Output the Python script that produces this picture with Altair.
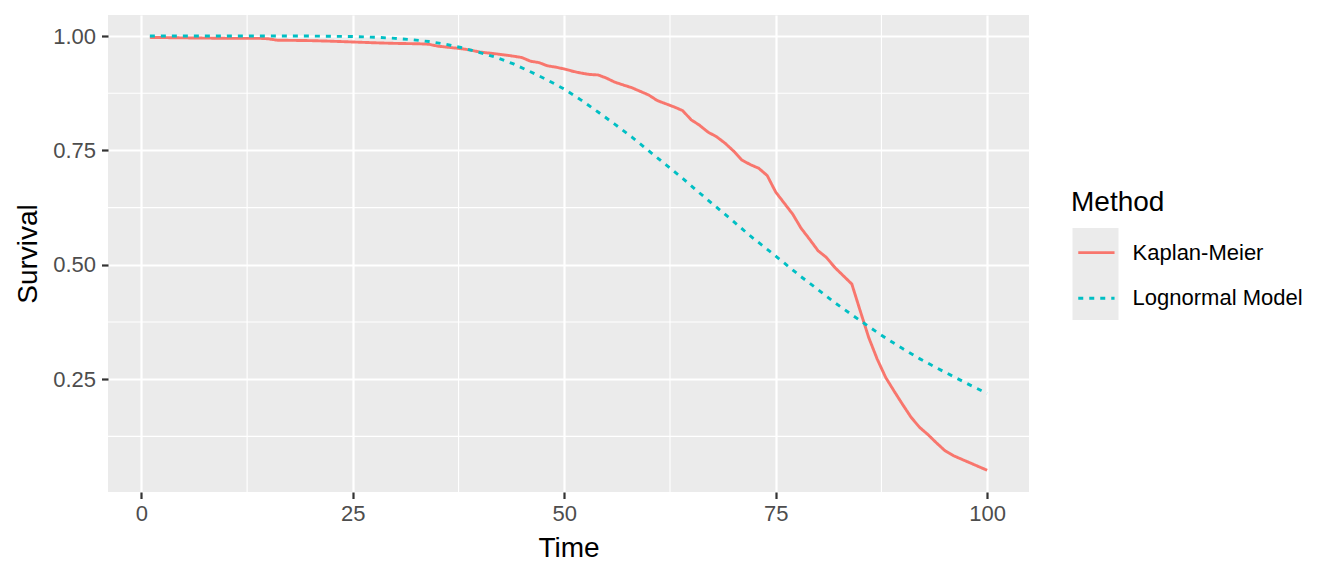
import altair as alt
import pandas as pd

# ---- data ----
methods = ["Kaplan-Meier", "Lognormal Model"]
colors = ["#F8766D", "#00BFC4"]

km_time = [1, 5, 10, 14, 15, 16, 20, 22, 25, 28, 30, 33, 34, 35, 36, 38, 39, 40, 42, 44,
           45, 46, 47, 48, 49, 50, 51, 52, 53, 54, 55, 56, 57, 58, 59, 60, 61, 62, 63, 64,
           65, 66, 67, 68, 69, 70, 71, 72, 73, 74, 75, 76, 77, 78, 79, 80, 81, 82, 83, 84,
           85, 86, 87, 88, 89, 90, 91, 92, 93, 94, 95, 96, 97, 98, 99, 100]
km_surv = [0.997, 0.996, 0.995, 0.995, 0.994, 0.991, 0.990, 0.989, 0.987, 0.985, 0.984, 0.983, 0.982, 0.978, 0.976, 0.972, 0.969, 0.965, 0.961, 0.956,
           0.953, 0.945, 0.942, 0.935, 0.932, 0.928, 0.923, 0.919, 0.916, 0.915, 0.908, 0.899, 0.893, 0.887, 0.879, 0.871, 0.859, 0.852, 0.845, 0.837,
           0.817, 0.805, 0.790, 0.780, 0.766, 0.749, 0.729, 0.719, 0.711, 0.695, 0.659, 0.635, 0.611, 0.580, 0.556, 0.531, 0.516, 0.494, 0.476, 0.458,
           0.399, 0.341, 0.294, 0.254, 0.224, 0.195, 0.167, 0.145, 0.129, 0.111, 0.094, 0.083, 0.075, 0.067, 0.059, 0.051]

ln_time = [1, 5, 10, 15, 20, 25, 28, 30, 32, 34, 36, 38, 40, 42, 44, 46, 48, 50, 52, 54,
           56, 58, 60, 62, 64, 66, 68, 70, 72, 74, 76, 78, 80, 82, 84, 86, 88, 90, 92, 94,
           96, 98, 100]
ln_surv = [1.000, 1.000, 1.000, 1.000, 1.000, 0.999, 0.997, 0.995, 0.992, 0.988, 0.982, 0.974, 0.964, 0.953, 0.939, 0.922, 0.904, 0.884, 0.860, 0.834,
           0.807, 0.779, 0.749, 0.719, 0.689, 0.657, 0.626, 0.595, 0.563, 0.534, 0.504, 0.474, 0.446, 0.417, 0.391, 0.365, 0.340, 0.317, 0.295, 0.275,
           0.256, 0.237, 0.219]

x_ticks = [0, 25, 50, 75, 100]
y_ticks = [0.25, 0.50, 0.75, 1.00]
x_minor = [12.5, 37.5, 62.5, 87.5]
y_minor = [0.125, 0.375, 0.625, 0.875]

assert len(km_time) == len(km_surv) and len(ln_time) == len(ln_surv)

df = pd.concat([
    pd.DataFrame({"Time": km_time, "Survival": km_surv, "Method": methods[0]}),
    pd.DataFrame({"Time": ln_time, "Survival": ln_surv, "Method": methods[1]}),
], ignore_index=True)
df["Key"] = df["Method"]

FONT = "Liberation Sans"
BG = "#EBEBEB"
LW = 2.9

xscale = alt.Scale(domain=[-3.95, 104.95], nice=False, zero=False)
yscale = alt.Scale(domain=[0.0035, 1.046], nice=False, zero=False)

xaxis = alt.Axis(values=x_ticks, title="Time", grid=True, gridColor="white", gridWidth=2.2,
                 domain=False, tickColor="#333333", tickWidth=2.2, tickSize=6.5,
                 labelFont=FONT, labelFontSize=22, labelColor="#4D4D4D", labelPadding=5,
                 titleFont=FONT, titleFontSize=28, titleColor="black", titleFontWeight="normal",
                 titleBaseline="alphabetic", titleX=460.5, titleY=64)
yaxis = alt.Axis(values=y_ticks, format=".2f", title="Survival", grid=True, gridColor="white",
                 gridWidth=2.2, domain=False, tickColor="#333333", tickWidth=2.2, tickSize=6.5,
                 labelFont=FONT, labelFontSize=22, labelColor="#4D4D4D", labelPadding=6,
                 titleFont=FONT, titleFontSize=28, titleColor="black", titleFontWeight="normal",
                 titleAngle=270, titleAlign="center", titleBaseline="alphabetic",
                 titleX=-71.3, titleY=238.5)

# horizontal stroke symbol drawn as a custom path
line_legend = alt.Legend(
    orient="none", legendX=963, legendY=174, padding=0, zindex=1,
    title="Method", titleFont=FONT, titleFontSize=28, titleColor="black",
    titleFontWeight="normal", titlePadding=12.1,
    labelFont=FONT, labelFontSize=22, labelColor="black", labelOffset=12.7, labelLimit=400,
    symbolType="M-0.836,0H0.836", symbolSize=1884, symbolStrokeWidth=LW, symbolOffset=1.9,
    rowPadding=10.6,
)
# legend of invisible marks: only draws the grey key background behind the line legend
key_legend = alt.Legend(
    orient="none", legendX=963, legendY=174, padding=0, zindex=0,
    title=" ", titleFont=FONT, titleFontSize=28, titleOpacity=0,
    titleFontWeight="normal", titlePadding=11.1,
    labelFont=FONT, labelFontSize=22, labelOpacity=0, labelExpr="''",
    symbolSize=2116, symbolStrokeWidth=0, symbolOpacity=1, symbolFillColor=BG,
    symbolOffset=1.5, rowPadding=0,
)

x_minor_layer = alt.Chart(pd.DataFrame({"Time": x_minor})).mark_rule(
    color="white", strokeWidth=1.1).encode(x=alt.X("Time:Q", scale=xscale, axis=xaxis))
y_minor_layer = alt.Chart(pd.DataFrame({"Survival": y_minor})).mark_rule(
    color="white", strokeWidth=1.1).encode(y=alt.Y("Survival:Q", scale=yscale, axis=yaxis))

lines = alt.Chart(df).mark_line(strokeWidth=LW).encode(
    x=alt.X("Time:Q", scale=xscale, axis=xaxis),
    y=alt.Y("Survival:Q", scale=yscale, axis=yaxis),
    color=alt.Color("Method:N", scale=alt.Scale(domain=methods, range=colors), legend=line_legend),
    strokeDash=alt.StrokeDash("Method:N", scale=alt.Scale(domain=methods, range=[[1, 0], [5, 6]]),
                              legend=line_legend),
    order="Time:Q",
)

keys = alt.Chart(df).mark_point(filled=True, color=BG, opacity=0).encode(
    x=alt.X("Time:Q", scale=xscale, axis=xaxis),
    y=alt.Y("Survival:Q", scale=yscale, axis=yaxis),
    shape=alt.Shape("Key:N", scale=alt.Scale(range=["square", "square"]), legend=key_legend),
)

chart = alt.layer(x_minor_layer, y_minor_layer, lines, keys).properties(
    width=921, height=477,
    autosize=alt.AutoSizeParams(type="none"),
    padding={"left": 100, "top": 7, "right": 307, "bottom": 70},
    background="white",
).configure_view(fill=BG, stroke=None)

chart.save("out.html", embed_options={"renderer": "svg", "actions": False})
